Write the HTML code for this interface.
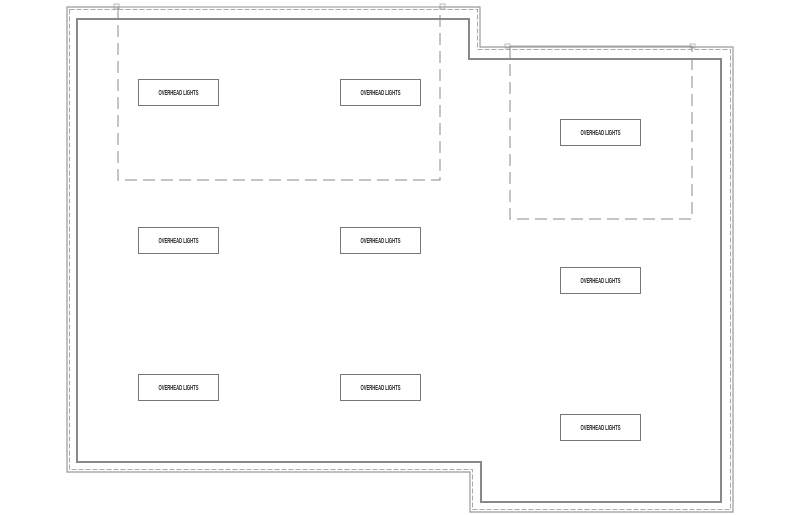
<!DOCTYPE html>
<html><head><style>
html,body{margin:0;padding:0;background:#fff;}
svg{display:block;}
text{font-family:"Liberation Sans",sans-serif;font-size:7px;font-weight:bold;fill:#222;}
</style></head><body>
<svg width="800" height="515" viewBox="0 0 800 515" xmlns="http://www.w3.org/2000/svg">
<g fill="none">
<path d="M67,7 H480 V47 H733 V512 H470 V472 H67 Z" stroke="#999" stroke-width="1.2"/>
<path d="M69.5,9.5 H477.5 V49.5 H730.5 V509.5 H472.5 V469.5 H69.5 Z" stroke="#aaa" stroke-width="1" stroke-dasharray="5 2"/>
<path d="M77,19 H469 V59 H721 V502 H481 V462 H77 Z" stroke="#888" stroke-width="2"/>
<line x1="118" y1="7" x2="440" y2="7" stroke="#aaa" stroke-width="1"/>
<line x1="510" y1="46" x2="692" y2="46" stroke="#aaa" stroke-width="1"/>
<rect x="114" y="4" width="5" height="5" stroke="#aaa" stroke-width="0.8"/>
<rect x="440" y="4" width="5" height="5" stroke="#aaa" stroke-width="0.8"/>
<rect x="505" y="44" width="5" height="4" stroke="#aaa" stroke-width="0.8"/>
<rect x="690" y="44" width="5" height="4" stroke="#aaa" stroke-width="0.8"/>
<path d="M118,7 V180 H440 V7 M118,19 H440" stroke="#888" stroke-width="1" stroke-dasharray="12 6"/>
<path d="M510,46 V219 H692 V46 M510,59 H692" stroke="#888" stroke-width="1" stroke-dasharray="12 6"/>
<g stroke="#777" stroke-width="1" fill="#fff">
<rect x="138.5" y="79.5" width="80" height="26"/>
<rect x="340.5" y="79.5" width="80" height="26"/>
<rect x="560.5" y="119.5" width="80" height="26"/>
<rect x="138.5" y="227.5" width="80" height="26"/>
<rect x="340.5" y="227.5" width="80" height="26"/>
<rect x="560.5" y="267.5" width="80" height="26"/>
<rect x="138.5" y="374.5" width="80" height="26"/>
<rect x="340.5" y="374.5" width="80" height="26"/>
<rect x="560.5" y="414.5" width="80" height="26"/>
</g>
</g>
<g text-anchor="middle">
<text x="178.5" y="95" textLength="40" lengthAdjust="spacingAndGlyphs">OVERHEAD LIGHTS</text>
<text x="380.5" y="95" textLength="40" lengthAdjust="spacingAndGlyphs">OVERHEAD LIGHTS</text>
<text x="600.5" y="135" textLength="40" lengthAdjust="spacingAndGlyphs">OVERHEAD LIGHTS</text>
<text x="178.5" y="243" textLength="40" lengthAdjust="spacingAndGlyphs">OVERHEAD LIGHTS</text>
<text x="380.5" y="243" textLength="40" lengthAdjust="spacingAndGlyphs">OVERHEAD LIGHTS</text>
<text x="600.5" y="283" textLength="40" lengthAdjust="spacingAndGlyphs">OVERHEAD LIGHTS</text>
<text x="178.5" y="390" textLength="40" lengthAdjust="spacingAndGlyphs">OVERHEAD LIGHTS</text>
<text x="380.5" y="390" textLength="40" lengthAdjust="spacingAndGlyphs">OVERHEAD LIGHTS</text>
<text x="600.5" y="430" textLength="40" lengthAdjust="spacingAndGlyphs">OVERHEAD LIGHTS</text>
</g>
</svg>
</body></html>
